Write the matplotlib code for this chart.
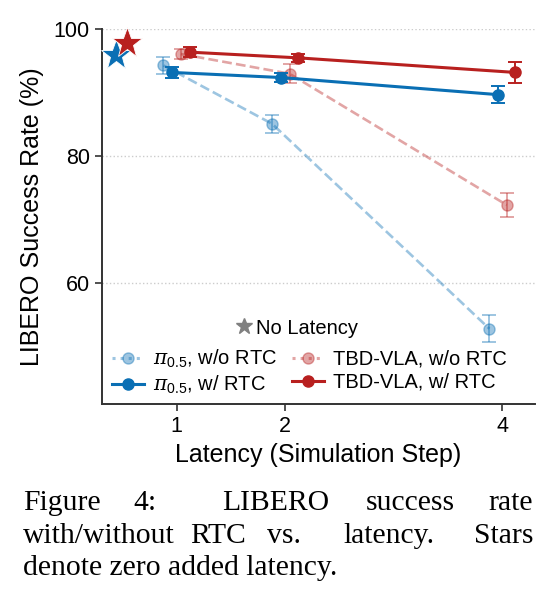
import numpy as np
import matplotlib

matplotlib.use("Agg")
import matplotlib.pyplot as plt
from matplotlib.lines import Line2D

plt.rcParams["font.family"] = ["Liberation Sans", "DejaVu Sans"]
plt.rcParams["mathtext.fontset"] = "custom"
plt.rcParams["mathtext.rm"] = "Liberation Sans"
plt.rcParams["mathtext.it"] = "DejaVu Serif:italic"

# latency steps and per-series x offsets
latency = [1, 2, 4]
offsets = {"pi_wo": -0.12, "pi_w": -0.04, "tbd_wo": 0.04, "tbd_w": 0.12}

pi_wo = [94.3, 85.1, 52.8]
pi_wo_err = [1.3, 1.4, 2.1]
pi_w = [93.2, 92.4, 89.7]
pi_w_err = [0.8, 0.7, 1.3]
tbd_wo = [96.1, 93.0, 72.3]
tbd_wo_err = [0.8, 1.5, 1.9]
tbd_w = [96.4, 95.5, 93.2]
tbd_w_err = [0.8, 0.6, 1.7]

# zero-latency stars
star_x = [0.44, 0.545]
star_y = [96.0, 97.9]

BLUE = "#0a6fb4"
RED = "#b8201f"
LIGHT_ALPHA = 0.4

fig = plt.figure(figsize=(5.55, 5.98), dpi=100)
ax = fig.add_axes([0.183, 0.324, 0.781, 0.627])

x = np.array(latency, dtype=float)

series = [
    ("pi_wo", pi_wo, pi_wo_err, BLUE, "--", LIGHT_ALPHA, r"$\pi_{0.5}$, w/o RTC"),
    ("tbd_wo", tbd_wo, tbd_wo_err, RED, "--", LIGHT_ALPHA, "TBD-VLA, w/o RTC"),
    ("pi_w", pi_w, pi_w_err, BLUE, "-", 1.0, r"$\pi_{0.5}$, w/ RTC"),
    ("tbd_w", tbd_w, tbd_w_err, RED, "-", 1.0, "TBD-VLA, w/ RTC"),
]
handles = {}
for key, y, err, col, ls, alpha, label in series:
    ax.errorbar(
        x + offsets[key], y, yerr=err,
        color=col, ls=ls, lw=2.2 if ls == "-" else 1.9,
        marker="o", ms=8, capsize=5, capthick=1.4, elinewidth=1.4,
        alpha=alpha, zorder=3 if ls == "-" else 2,
    )
    handles[key] = Line2D(
        [], [], color=col, ls=ls if ls == "-" else ":", lw=2.2,
        marker="o", ms=8, alpha=alpha, label=label,
    )

ax.plot(star_x[0], star_y[0], marker="*", ms=23, color=BLUE,
        mec="white", mew=0.6, ls="", zorder=4, clip_on=False)
ax.plot(star_x[1], star_y[1], marker="*", ms=23, color=RED,
        mec="white", mew=0.6, ls="", zorder=5, clip_on=False)

ax.set_xlim(0.31, 4.3)
ax.set_ylim(40.9, 100)
ax.set_xticks(latency)
ax.set_xticklabels([str(v) for v in latency])
ax.set_yticks([60, 80, 100])
ax.tick_params(labelsize=15.5, length=5, width=1.2, color="#333333")
ax.yaxis.grid(True, ls=":", color="#cccccc", lw=1)
ax.set_axisbelow(True)
for s in ("top", "right"):
    ax.spines[s].set_visible(False)
for s in ("left", "bottom"):
    ax.spines[s].set_color("#333333")
    ax.spines[s].set_linewidth(1.4)

ax.set_xlabel("Latency (Simulation Step)", fontsize=18, labelpad=4)
ax.set_ylabel("LIBERO Success Rate (%)", fontsize=18, labelpad=7)

star_handle = Line2D([], [], color="grey", marker="*", ms=12, ls="",
                     label="No Latency")
leg1 = fig.legend(handles=[star_handle], loc="center left",
                  bbox_to_anchor=(236 / 555, 1 - 328 / 598),
                  frameon=False, fontsize=14.5, handlelength=0.8,
                  handletextpad=0.2, borderpad=0, borderaxespad=0)
leg2 = fig.legend(
    handles=[handles["pi_wo"], handles["pi_w"], handles["tbd_wo"], handles["tbd_w"]],
    loc="center left", bbox_to_anchor=(112 / 555, 1 - 372 / 598),
    ncol=2, frameon=False, fontsize=14.5, handlelength=1.6,
    handletextpad=0.45, columnspacing=0.7, labelspacing=0.2,
    borderpad=0, borderaxespad=0,
)

# justified caption, laid out word by word
cap_font = dict(family="Liberation Serif", fontsize=21.3, va="baseline")
cap_lines = [
    (["Figure", "4:", "LIBERO", "success", "rate"], [22.7, 133, 221.7, 365.7, 533.3], 510),
    (["with/without", "RTC", "vs.", "latency.", "Stars"], [22.7, 190, 266.7, 343.3, 533.3], 543),
    (["denote zero added latency."], [22.7], 575),
]
for words, xs, yb in cap_lines:
    for i, (w, xp) in enumerate(zip(words, xs)):
        ha = "right" if (i == len(words) - 1 and len(words) > 1) else "left"
        fig.text(xp / 555, 1 - yb / 598, w, ha=ha, **cap_font)

fig.savefig("out.png", dpi=100)
